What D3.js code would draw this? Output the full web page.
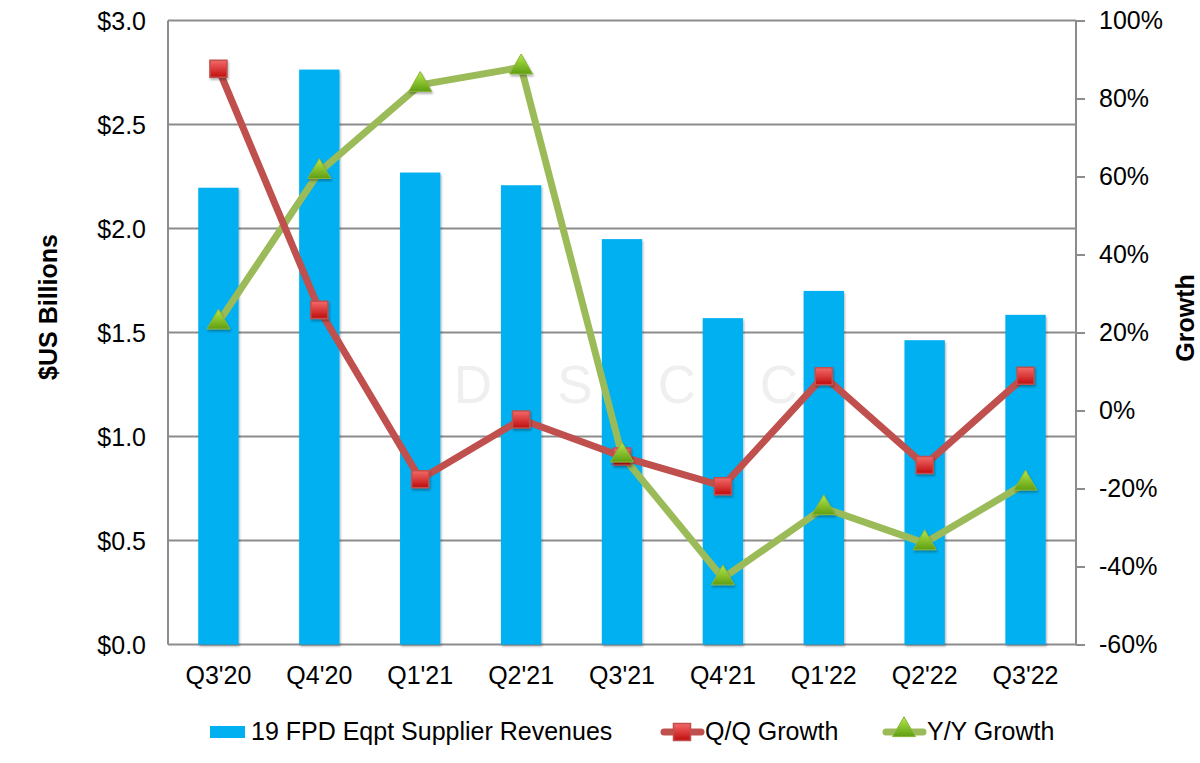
<!DOCTYPE html>
<html>
<head>
<meta charset="utf-8">
<script src="https://cdn.jsdelivr.net/npm/d3@7"></script>
<style>
  body { margin: 0; background: #fff; }
  text { font-family: "Liberation Sans", Arial, sans-serif; fill: #000; }
</style>
</head>
<body>
<script>
const quarters = ["Q3'20", "Q4'20", "Q1'21", "Q2'21", "Q3'21", "Q4'21", "Q1'22", "Q2'22", "Q3'22"];
const revenues = [2.196, 2.764, 2.269, 2.208, 1.949, 1.569, 1.70, 1.463, 1.585];
const qqGrowth = [87.6, 25.8, -17.6, -2.3, -11.8, -19.4, 8.8, -14.0, 8.9];
const yyGrowth = [22.6, 61.2, 83.5, 88.0, -11.5, -43.0, -25.0, -34.0, -18.7];
const leftTicks = [0, 0.5, 1.0, 1.5, 2.0, 2.5, 3.0];
const rightTicks = [-60, -40, -20, 0, 20, 40, 60, 80, 100];
const watermark = ['D', 'S', 'C', 'C'];

const margin = { top: 20.5, right: 124, bottom: 118.5, left: 168 };
const W = 1200, H = 763;
const width = W - margin.left - margin.right;
const height = H - margin.top - margin.bottom;

const svg = d3.select('body').append('svg')
  .attr('width', W)
  .attr('height', H);

const defs = svg.append('defs');
const redGrad = defs.append('linearGradient').attr('id', 'redGrad')
  .attr('x1', 0).attr('y1', 0).attr('x2', 0).attr('y2', 1);
redGrad.append('stop').attr('offset', '0%').attr('stop-color', '#f46a6a');
redGrad.append('stop').attr('offset', '100%').attr('stop-color', '#c00d0d');
const greenGrad = defs.append('linearGradient').attr('id', 'greenGrad')
  .attr('x1', 0).attr('y1', 0).attr('x2', 0).attr('y2', 1);
greenGrad.append('stop').attr('offset', '0%').attr('stop-color', '#b6e94a');
greenGrad.append('stop').attr('offset', '100%').attr('stop-color', '#5f9e12');
const shadow = defs.append('filter').attr('id', 'shadow')
  .attr('x', '-30%').attr('y', '-30%').attr('width', '160%').attr('height', '160%');
shadow.append('feDropShadow').attr('dx', 1).attr('dy', 2).attr('stdDeviation', 1.2)
  .attr('flood-color', '#000').attr('flood-opacity', 0.3);

const g = svg.append('g')
  .attr('transform', 'translate(' + margin.left + ',' + margin.top + ')');

const x = d3.scaleBand()
  .domain(quarters)
  .range([0, width])
  .paddingInner(0.6)
  .paddingOuter(0.3);

const yL = d3.scaleLinear().domain([0, 3]).range([height, 0]);
const yR = d3.scaleLinear().domain([-60, 100]).range([height, 0]);

// gridlines
g.append('g')
  .selectAll('line')
  .data(leftTicks)
  .enter().append('line')
  .attr('x1', 0).attr('x2', width)
  .attr('y1', d => yL(d)).attr('y2', d => yL(d))
  .attr('stroke', '#8c8c8c')
  .attr('stroke-width', 2);

// watermark
g.append('g')
  .selectAll('text')
  .data(watermark)
  .enter().append('text')
  .attr('x', (d, i) => 473 - margin.left + i * 102)
  .attr('y', 403 - margin.top)
  .attr('text-anchor', 'middle')
  .style('font-size', '53px')
  .style('fill', '#efefef')
  .text(d => d);

// bars
g.append('g')
  .selectAll('rect')
  .data(revenues)
  .enter().append('rect')
  .attr('x', (d, i) => x(quarters[i]))
  .attr('y', d => yL(d))
  .attr('width', x.bandwidth())
  .attr('height', d => height - yL(d))
  .attr('fill', '#00b0f0')
  .attr('filter', 'url(#shadow)');

// axes frame
g.append('line').attr('x1', 0).attr('x2', 0).attr('y1', 0).attr('y2', height)
  .attr('stroke', '#8c8c8c').attr('stroke-width', 2);
g.append('line').attr('x1', width).attr('x2', width).attr('y1', 0).attr('y2', height)
  .attr('stroke', '#8c8c8c').attr('stroke-width', 2);

// left axis labels
g.append('g')
  .selectAll('text')
  .data(leftTicks)
  .enter().append('text')
  .attr('x', -22)
  .attr('y', d => yL(d))
  .attr('dy', '0.36em')
  .attr('text-anchor', 'end')
  .style('font-size', '25px')
  .text(d => '$' + d.toFixed(1));

// right axis
const rightAxis = d3.axisRight(yR)
  .tickValues(rightTicks)
  .tickSize(9)
  .tickPadding(14)
  .tickFormat(d => d + '%');
const ra = g.append('g')
  .attr('transform', 'translate(' + width + ',0)')
  .call(rightAxis);
ra.select('.domain').remove();
ra.selectAll('line').attr('stroke', '#8c8c8c').attr('stroke-width', 2);
ra.selectAll('text')
  .style('font-size', '25px')
  .style('font-family', '"Liberation Sans", Arial, sans-serif')
  .attr('fill', '#000');

// category labels
g.append('g')
  .selectAll('text')
  .data(quarters)
  .enter().append('text')
  .attr('x', d => x(d) + x.bandwidth() / 2)
  .attr('y', height + 39.5)
  .attr('text-anchor', 'middle')
  .style('font-size', '25px')
  .text(d => d);

// axis titles
svg.append('text')
  .attr('transform', 'translate(57,307) rotate(-90)')
  .attr('text-anchor', 'middle')
  .style('font-size', '25px')
  .style('font-weight', 'bold')
  .text('$US Billions');

svg.append('text')
  .attr('transform', 'translate(1194,318) rotate(-90)')
  .attr('text-anchor', 'middle')
  .style('font-size', '25px')
  .style('font-weight', 'bold')
  .text('Growth');

// lines
const cx = i => x(quarters[i]) + x.bandwidth() / 2;
const line = d3.line()
  .x((d, i) => cx(i))
  .y(d => yR(d));

g.append('path')
  .datum(yyGrowth)
  .attr('d', line)
  .attr('fill', 'none')
  .attr('stroke', '#9bbb59')
  .attr('stroke-width', 7)
  .attr('stroke-linejoin', 'round');

g.append('path')
  .datum(qqGrowth)
  .attr('d', line)
  .attr('fill', 'none')
  .attr('stroke', '#c0504d')
  .attr('stroke-width', 7)
  .attr('stroke-linejoin', 'round');

const squareSym = d3.symbol().type(d3.symbolSquare).size(290);
const triSym = d3.symbol().type(d3.symbolTriangle).size(230);

g.append('g')
  .selectAll('path')
  .data(qqGrowth)
  .enter().append('path')
  .attr('d', squareSym)
  .attr('transform', (d, i) => 'translate(' + cx(i) + ',' + yR(d) + ')')
  .attr('fill', 'url(#redGrad)')
  .attr('stroke', '#c0504d')
  .attr('stroke-width', 1.5)
  .attr('filter', 'url(#shadow)');

g.append('g')
  .selectAll('path')
  .data(yyGrowth)
  .enter().append('path')
  .attr('d', triSym)
  .attr('transform', (d, i) => 'translate(' + cx(i) + ',' + yR(d) + ')')
  .attr('fill', 'url(#greenGrad)')
  .attr('stroke', '#8cb43c')
  .attr('stroke-width', 1)
  .attr('filter', 'url(#shadow)');

// legend
const legend = svg.append('g');
legend.append('rect')
  .attr('x', 210).attr('y', 726).attr('width', 35).attr('height', 12)
  .attr('fill', '#00b0f0');
legend.append('text')
  .attr('x', 251).attr('y', 740)
  .style('font-size', '25px')
  .text('19 FPD Eqpt Supplier Revenues');

legend.append('line')
  .attr('x1', 664).attr('x2', 701).attr('y1', 732).attr('y2', 732)
  .attr('stroke', '#c0504d').attr('stroke-width', 7).attr('stroke-linecap', 'round');
legend.append('path')
  .attr('d', squareSym)
  .attr('transform', 'translate(682,732)')
  .attr('fill', 'url(#redGrad)')
  .attr('stroke', '#c0504d')
  .attr('stroke-width', 1.5);
legend.append('text')
  .attr('x', 705).attr('y', 740)
  .style('font-size', '25px')
  .text('Q/Q Growth');

legend.append('line')
  .attr('x1', 886).attr('x2', 923).attr('y1', 732).attr('y2', 732)
  .attr('stroke', '#9bbb59').attr('stroke-width', 7).attr('stroke-linecap', 'round');
legend.append('path')
  .attr('d', triSym)
  .attr('transform', 'translate(904,730)')
  .attr('fill', 'url(#greenGrad)')
  .attr('stroke', '#8cb43c')
  .attr('stroke-width', 1);
legend.append('text')
  .attr('x', 927).attr('y', 740)
  .style('font-size', '25px')
  .text('Y/Y Growth');
</script>
</body>
</html>
